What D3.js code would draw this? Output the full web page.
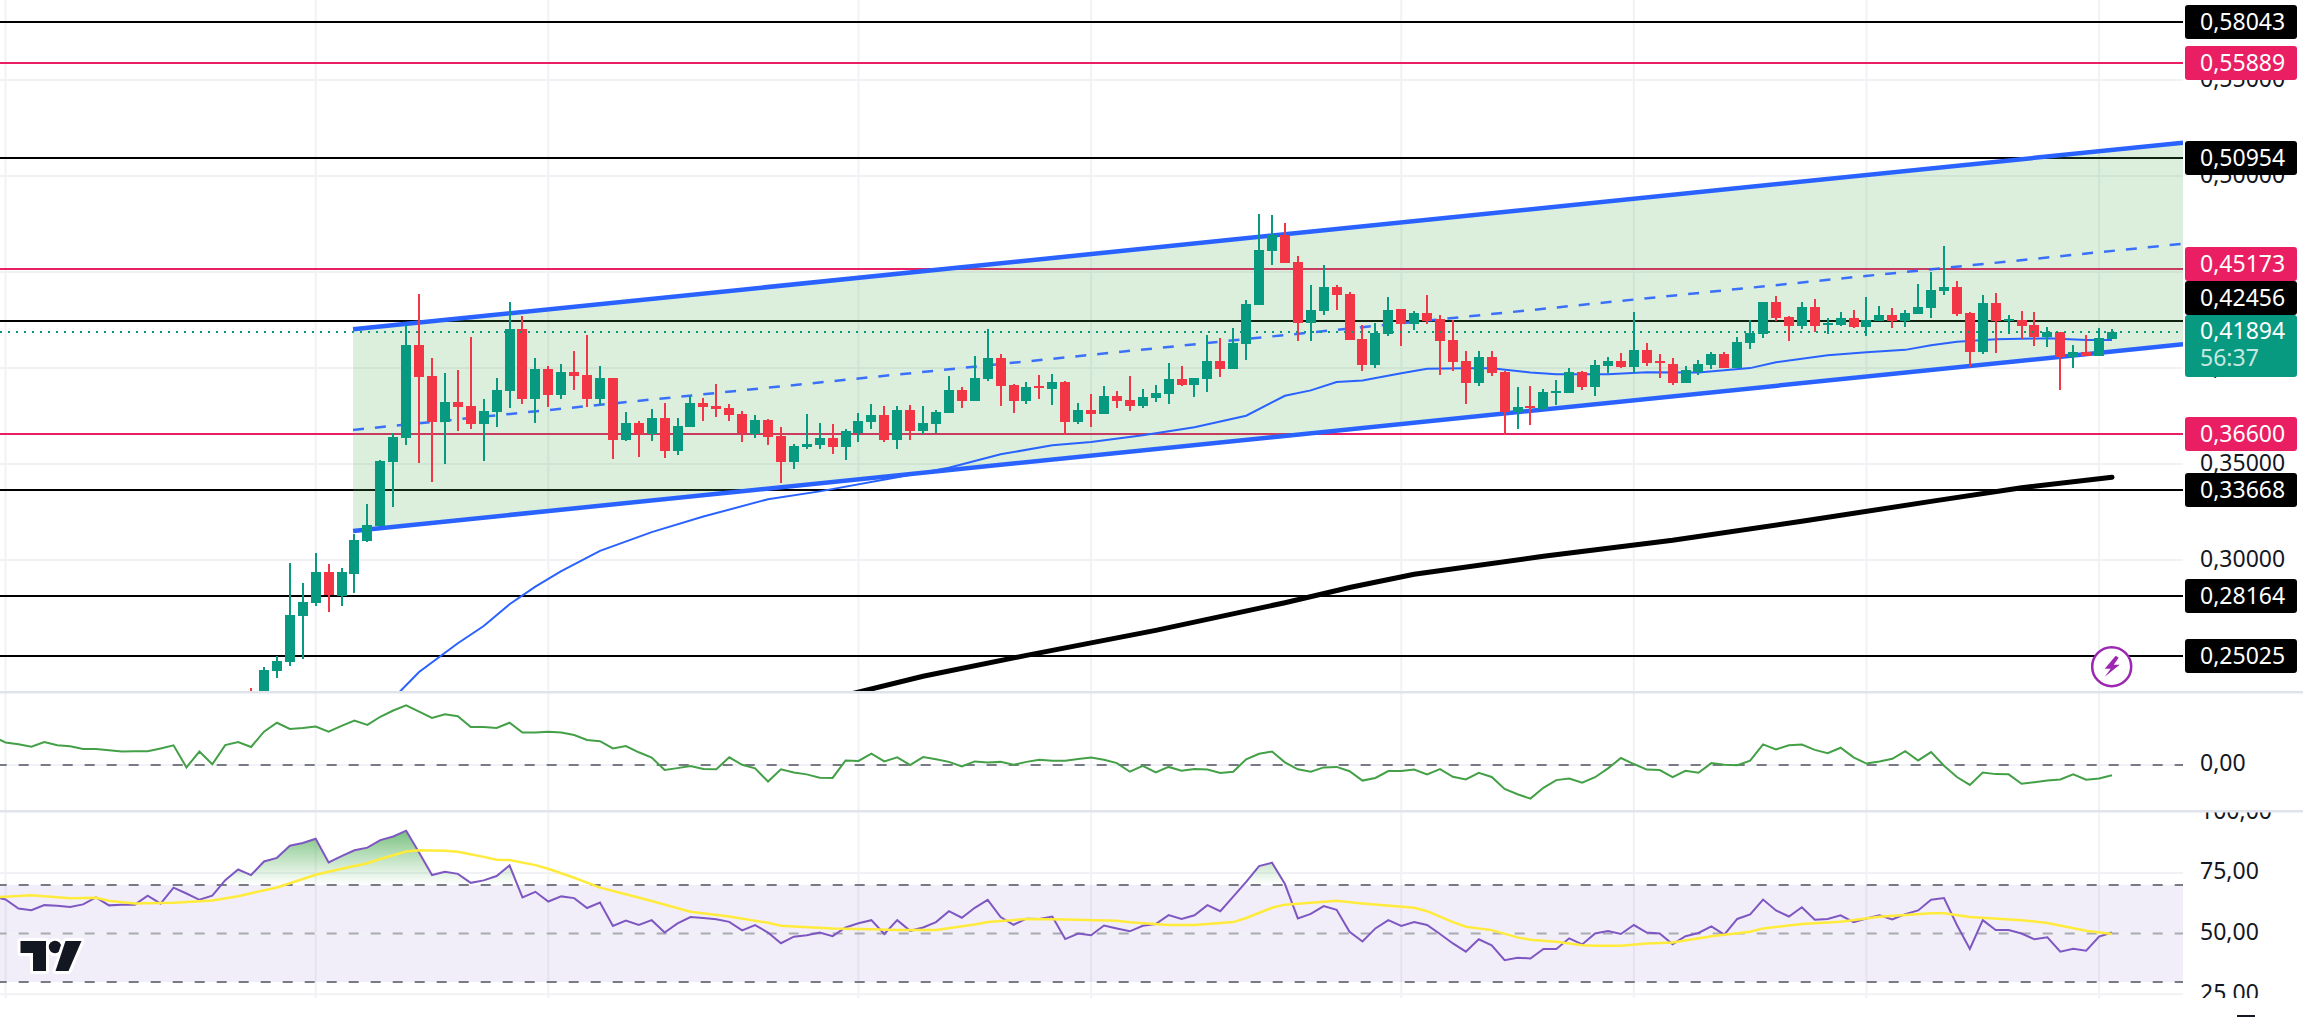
<!DOCTYPE html>
<html>
<head>
<meta charset="utf-8">
<style>
  html, body { margin: 0; padding: 0; background: #fff; overflow: hidden; }
  text { font-family: "Noto Sans", sans-serif; font-size: 23px; }
</style>
<script src="https://cdn.jsdelivr.net/npm/d3@7"></script>
</head>
<body>
<script>
// candles, first one is the sliver poking out of the bottom of the pane
const candleOpen = [.2290,.2260,.2422,.2469,.2709,.2776,.2938,.2813,.2927,.3099,.3177,.3511,.3636,.4120,.3959,.3719,.3823,.3802,.3709,.3771,.3881,.4203,.3839,.3995,.3860,.3979,.3964,.3839,.3948,.3625,.3714,.3657,.3740,.3568,.3693,.3818,.3802,.3791,.3760,.3656,.3729,.3646,.3510,.3588,.3599,.3635,.3588,.3661,.3719,.3755,.3625,.3781,.3672,.3708,.3765,.3885,.3828,.3943,.4052,.3911,.3828,.3906,.3890,.3927,.3719,.3781,.3760,.3854,.3833,.3802,.3844,.3864,.3943,.3911,.3943,.4036,.3995,.4125,.4328,.4609,.4692,.4552,.4234,.4297,.4422,.4385,.4151,.4015,.4177,.4307,.4229,.4286,.4255,.4146,.4036,.3922,.4057,.3979,.3771,.3802,.3786,.3875,.3870,.3979,.3901,.4010,.4036,.4005,.4094,.4036,.4021,.3922,.3979,.4016,.4073,.4000,.4130,.4177,.4344,.4266,.4219,.4318,.4224,.4224,.4260,.4214,.4245,.4276,.4245,.4281,.4312,.4401,.4422,.4286,.4083,.4339,.4250,.4250,.4224,.4161,.4187,.4057,.4083,.4063,.4151];
const candleHigh = [.2334,.2443,.2502,.2985,.2881,.3037,.2980,.2959,.3136,.3292,.3521,.3662,.4224,.4386,.4052,.3974,.3990,.4162,.3839,.3948,.4344,.4271,.4052,.4011,.4021,.4089,.4172,.4011,.3948,.3771,.3724,.3787,.3818,.3740,.3854,.3844,.3917,.3812,.3776,.3755,.3734,.3693,.3604,.3760,.3713,.3708,.3682,.3765,.3812,.3802,.3802,.3807,.3802,.3781,.3958,.3901,.4062,.4203,.4073,.3917,.3927,.3963,.3969,.3932,.3818,.3864,.3906,.3880,.3958,.3890,.3911,.4026,.4010,.3948,.4172,.4156,.4208,.4354,.4802,.4797,.4755,.4583,.4432,.4536,.4432,.4396,.4224,.4234,.4370,.4307,.4297,.4380,.4276,.4250,.4088,.4088,.4088,.3984,.3901,.3906,.3890,.3937,.3999,.3984,.4042,.4057,.4078,.4291,.4130,.4073,.4052,.4010,.4042,.4083,.4083,.4161,.4250,.4344,.4375,.4271,.4344,.4359,.4260,.4292,.4302,.4370,.4323,.4312,.4302,.4437,.4500,.4635,.4453,.4292,.4380,.4391,.4276,.4297,.4292,.4214,.4187,.4120,.4172,.4208,.4203];
const candleLow = [.2250,.2240,.2386,.2448,.2485,.2761,.2730,.2761,.2829,.3094,.3177,.3276,.3599,.3506,.3407,.3500,.3672,.3683,.3516,.3693,.3792,.3813,.3714,.3797,.3839,.3886,.3797,.3808,.3526,.3620,.3537,.3620,.3532,.3547,.3693,.3724,.3745,.3724,.3614,.3635,.3599,.3401,.3474,.3578,.3578,.3552,.3521,.3614,.3682,.3614,.3578,.3625,.3656,.3661,.3765,.3791,.3828,.3932,.3802,.3765,.3812,.3838,.3807,.3651,.3708,.3693,.3760,.3791,.3776,.3791,.3823,.3812,.3906,.3849,.3875,.3953,.3995,.4042,.4328,.4536,.4547,.4140,.4140,.4276,.4302,.4146,.3984,.3999,.4167,.4114,.4198,.4229,.3963,.3984,.3812,.3906,.3958,.3651,.3682,.3703,.3781,.3807,.3870,.3885,.3854,.3974,.3999,.3974,.4010,.3948,.3911,.3922,.3964,.3995,.4000,.4000,.4099,.4156,.4245,.4141,.4203,.4187,.4177,.4219,.4208,.4167,.4245,.4208,.4214,.4281,.4260,.4380,.4271,.4005,.4073,.4078,.4177,.4151,.4115,.4109,.3885,.4000,.4063,.4063,.4151];
const candleClose = [.2260,.2428,.2474,.2714,.2782,.2938,.2818,.2938,.3105,.3183,.3516,.3641,.4120,.3953,.3719,.3823,.3797,.3709,.3776,.3886,.4203,.3839,.3995,.3860,.3979,.3959,.3839,.3948,.3625,.3714,.3657,.3740,.3568,.3698,.3818,.3797,.3786,.3755,.3661,.3729,.3640,.3510,.3594,.3604,.3635,.3588,.3672,.3724,.3755,.3625,.3781,.3672,.3713,.3771,.3885,.3828,.3948,.4052,.3906,.3828,.3901,.3896,.3927,.3719,.3781,.3760,.3854,.3828,.3802,.3849,.3870,.3943,.3911,.3948,.4036,.3995,.4130,.4333,.4614,.4692,.4547,.4234,.4302,.4422,.4380,.4146,.4015,.4182,.4302,.4229,.4286,.4245,.4140,.4031,.3922,.4057,.3974,.3771,.3797,.3791,.3875,.3880,.3979,.3901,.4015,.4036,.4005,.4094,.4026,.4026,.3922,.3989,.4021,.4073,.4000,.4135,.4182,.4344,.4260,.4219,.4318,.4219,.4234,.4260,.4214,.4250,.4276,.4245,.4286,.4318,.4406,.4422,.4281,.4083,.4339,.4245,.4255,.4219,.4161,.4187,.4057,.4083,.4063,.4156,.4189];

// moving averages, read at the candle indexes where the line bends
const ma50Index = [11,13,16,18,20,22,24,27,31,35,40,44,50,54,58,62,65,69,73,77,80,82,84,86,89,91,94,96,99,101,105,108,112,116,118,122,125,128,130,132,135,139,142,144];
const ma50Values = [.2281,.2418,.2568,.2658,.2771,.2863,.2944,.3049,.3147,.3228,.3318,.3359,.3432,.3482,.3552,.3599,.3616,.3651,.3693,.3753,.3857,.3885,.3929,.3936,.3974,.3998,.4000,.4000,.3978,.3969,.3969,.3979,.3978,.4001,.4031,.4068,.4083,.4096,.4120,.4138,.4151,.4156,.4148,.4148];
const ma200Index = [46,52,60,70,80,85,90,100,110,120,130,137,144];
const ma200Values = [.2297,.2396,.2505,.2635,.2779,.2858,.2927,.3021,.3104,.3203,.3307,.3378,.3432];

// channel, first and last anchor
const channelIndex = [7.89,149.5];
const channelUpper = [.4203,.5175];
const channelMiddle = [.3679,.4649];
const channelLower = [.3153,.4125];

// drawn levels
const blackLevels = [.58043,.50954,.42456,.33668,.28164,.25025];
const pinkLevels = [.55889,.45173,.36600];
const lastPrice = .41894;
const countdown = "56:37";

const priceTicks = [.55,.50,.45,.40,.35,.30,.25];
const cmfTicks = [0];
const rsiTicks = [100,75,50,25];
const rsiBands = [70,50,30];
const gridIndex = [-19,5,23,47,65,89,107,125,143];

// oscillators start at candle index -20 (left edge of the picture)
const cmfStart = -20;
const cmfValues = [.118,.094,.086,.076,.096,.082,.078,.067,.067,.061,.056,.057,.057,.069,.082,-.010,.056,.003,.083,.096,.075,.139,.176,.150,.154,.160,.139,.163,.185,.167,.201,.227,.249,.222,.196,.211,.203,.158,.158,.154,.176,.135,.135,.139,.135,.125,.104,.099,.069,.079,.053,.031,-.021,-.013,-.004,-.017,-.018,.032,.001,-.014,-.069,-.018,-.031,
  -.039,-.053,-.054,.019,.017,.047,.015,.032,0,.033,.024,.013,-.006,.015,.010,.013,.001,.013,.022,.018,.018,.025,.031,.022,.008,-.028,-.004,-.031,-.008,-.024,-.017,-.019,-.033,-.028,.024,.047,.056,.011,-.018,-.028,-.010,-.008,-.026,-.065,-.054,-.025,-.025,-.019,-.039,-.017,-.049,-.060,-.033,-.050,-.100,-.122,-.140,-.095,-.063,-.056,-.074,-.051,
  -.014,.029,.004,-.019,-.021,-.051,-.024,-.032,.008,.001,-.001,.018,.086,.065,.082,.085,.063,.049,.072,.032,.006,.015,.026,.058,.019,.054,-.003,-.050,-.083,-.031,-.038,-.039,-.078,-.072,-.065,-.060,-.039,-.061,-.056,-.043];
const rsiValues = [65.2,64.0,60.3,59.6,61.7,61.4,60.9,62.0,64.9,61.6,61.9,61.9,65.6,62.3,68.9,66.5,63.9,65.6,72.0,76.4,74.1,79.7,81.2,86.2,87.3,89.1,79.3,81.9,84.3,85.4,88.5,90.0,92.4,83.4,74.1,75.5,74.6,70.9,71.9,73.7,78.1,64.9,67.2,63.2,65.3,64.6,60.5,62.8,53.1,55.3,53.5,55.5,50.4,54.2,56.8,56.4,55.9,54.8,51.3,53.5,50.4,46.0,48.7,
  49.3,50.4,48.9,52.5,54.2,55.5,49.8,55.5,51.1,52.5,54.7,59.2,56.5,60.6,63.9,56.8,53.6,56.1,56.0,57.0,47.7,50.0,49.3,53.3,52.1,50.9,53.2,53.9,57.6,56.0,57.5,61.7,59.2,65.2,71.3,77.8,79.2,70.4,56.2,58.1,61.3,59.8,50.7,46.7,52.1,55.5,53.1,54.7,53.5,49.8,45.9,42.5,47.6,45.1,39.0,40.0,39.7,43.6,43.6,48.0,45.5,50.0,
  51.0,49.8,53.5,50.4,50.0,45.6,48.9,50.2,52.9,49.5,56.0,57.9,64.0,59.5,57.0,60.8,55.7,56.0,57.5,54.7,56.2,57.5,55.8,58.0,59.5,63.9,64.6,53.5,43.6,55.5,51.4,51.4,50.0,47.6,48.4,42.5,43.7,42.9,48.7,50.4];
const rsiMaIndex = [-20,-17,-14,-12,-11,-9,-6,-3,-1,2,5,7,9,10,12,13,15,16,18,19,20,22,23,25,27,29,31,34,37,40,41,42,45,48,50,53,56,57,60,63,67,68,71,73,76,77,79,80,82,84,86,90,91,93,94,96,98,99,101,103,104,106,108,110,113,116,117,120,123,126,128,130,131,133,137,139,142,144];
const rsiMaValues = [64.9,65.8,64.5,64.7,63.5,62.4,62.7,63.6,65.4,69.0,74.2,76.7,79.0,80.7,83.8,84.3,84.1,83.7,81.6,80.4,80.3,78.2,76.7,73.0,68.9,66.2,63.4,59.0,57.0,54.4,53.2,52.9,52.1,51.8,51.4,51.4,53.7,54.7,56.0,55.8,55.3,54.6,53.5,53.5,54.7,56.4,60.6,61.9,62.7,63.5,62.4,60.6,59.2,54.7,52.8,51.4,48.4,47.4,46.6,45.2,44.9,44.9,45.9,46.3,48.9,50.7,52.1,53.9,54.8,56.9,57.6,58.3,58.3,56.8,55.5,54.3,51.1,49.8];

const width = 2303;
const height = 1017;
const plotRight = 2183;
const axisX = 2200;
const mainBottom = 692;
const cmfTop = 693, cmfBottom = 810;
const rsiTop = 812, rsiBottom = 998;

const green = "#089981";
const red = "#f23645";
const pink = "#e91e63";
const gridColor = "#f1f2f5";
const dashes = "10 12";
const dashPhase = 3.3;

const svg = d3.select("body").append("svg")
  .attr("width", width)
  .attr("height", height)
  .style("display", "block");

const defs = svg.append("defs");
function addClip(id, x, y, w, h) {
  defs.append("clipPath").attr("id", id)
    .append("rect").attr("x", x).attr("y", y).attr("width", w).attr("height", h);
}
addClip("main-clip", 0, 0, plotRight, mainBottom);
addClip("main-axis-clip", plotRight, 0, width - plotRight, mainBottom);
addClip("cmf-clip", plotRight, cmfTop, width - plotRight, cmfBottom - cmfTop);
addClip("rsi-clip", plotRight, rsiTop, width - plotRight, rsiBottom - rsiTop);

const xScale = d3.scaleLinear().domain([0, 144]).range([251.08, 2112]);
const priceScale = d3.scaleLinear().domain([.25, .55]).range([656.3, 80.3]);
const cmfScale = d3.scaleLinear().domain([-.1, .1]).range([789, 741]);
const rsiScale = d3.scaleLinear().domain([30, 70]).range([982, 885]);

const commaFormat = d3.formatLocale({ decimal: ",", thousands: ".", grouping: [3], currency: ["", ""] });
const price5 = commaFormat.format(".5f");
const value2 = commaFormat.format(".2f");

// vertical grid runs through all panes
svg.append("g").selectAll("line").data(gridIndex).enter().append("line")
  .attr("x1", d => xScale(d)).attr("x2", d => xScale(d))
  .attr("y1", 0).attr("y2", rsiBottom)
  .attr("stroke", gridColor).attr("stroke-width", 2);

// right hand axes first, the level badges sit on top of them
function rightAxis(scale, ticks, fmt, clip) {
  const g = svg.append("g")
    .attr("clip-path", `url(#${clip})`)
    .append("g")
    .attr("transform", `translate(${axisX},0)`)
    .call(d3.axisRight(scale).tickValues(ticks).tickSize(0).tickPadding(0).tickFormat(fmt));
  g.select(".domain").remove();
  g.selectAll("text").attr("fill", "#131722").attr("dy", ".26em").style("font-size", "23px");
}
rightAxis(priceScale, priceTicks, price5, "main-axis-clip");
rightAxis(cmfScale, cmfTicks, value2, "cmf-clip");
rightAxis(rsiScale, rsiTicks, value2, "rsi-clip");

// main pane
const main = svg.append("g").attr("clip-path", "url(#main-clip)");

function levelLines(cls, levels, color) {
  main.selectAll("." + cls).data(levels).enter().append("line")
    .attr("class", cls)
    .attr("x1", 0).attr("x2", plotRight)
    .attr("y1", d => Math.round(priceScale(d))).attr("y2", d => Math.round(priceScale(d)))
    .attr("stroke", color).attr("stroke-width", 2);
}
levelLines("price-grid", priceTicks, gridColor);
levelLines("black-level", blackLevels, "#000");
levelLines("pink-level", pinkLevels, pink);

const channelArea = d3.area()
  .x((d, i) => xScale(channelIndex[i]))
  .y0((d, i) => priceScale(channelLower[i]))
  .y1(d => priceScale(d));
main.append("path").datum(channelUpper)
  .attr("d", channelArea)
  .attr("fill", "rgba(76,175,80,0.2)");

const channelLine = d3.line()
  .x((d, i) => xScale(channelIndex[i]))
  .y(d => priceScale(d));

const ma200Line = d3.line().x((d, i) => xScale(ma200Index[i])).y(d => priceScale(d));
main.append("path").datum(ma200Values)
  .attr("d", ma200Line)
  .attr("fill", "none").attr("stroke", "#000").attr("stroke-width", 5).attr("stroke-linecap", "round");

[channelUpper, channelLower].forEach(vals => {
  main.append("path").datum(vals)
    .attr("d", channelLine)
    .attr("fill", "none").attr("stroke", "#2962ff").attr("stroke-width", 4.5);
});
main.append("path").datum(channelMiddle)
  .attr("d", channelLine)
  .attr("fill", "none").attr("stroke", "#2962ff").attr("stroke-opacity", 0.9).attr("stroke-width", 2.5)
  .attr("stroke-dasharray", "11 11");

const ma50Line = d3.line().x((d, i) => xScale(ma50Index[i])).y(d => priceScale(d));
main.append("path").datum(ma50Values)
  .attr("d", ma50Line)
  .attr("fill", "none").attr("stroke", "#2962ff").attr("stroke-width", 2);

const candles = main.selectAll(".candle").data(candleOpen).enter().append("g").attr("class", "candle");
const candleColor = (d, i) => candleClose[i] >= d ? green : red;
candles.append("rect")
  .attr("x", (d, i) => Math.round(xScale(i)) - 1)
  .attr("width", 2)
  .attr("y", (d, i) => Math.round(priceScale(candleHigh[i])))
  .attr("height", (d, i) => Math.round(priceScale(candleLow[i])) - Math.round(priceScale(candleHigh[i])))
  .attr("fill", candleColor);
candles.append("rect")
  .attr("x", (d, i) => Math.round(xScale(i)) - 5)
  .attr("width", 10)
  .attr("y", (d, i) => Math.round(priceScale(Math.max(d, candleClose[i]))))
  .attr("height", (d, i) => Math.max(2, Math.round(Math.abs(priceScale(d) - priceScale(candleClose[i])))))
  .attr("fill", candleColor);

main.append("line")
  .attr("x1", 0).attr("x2", plotRight)
  .attr("y1", Math.round(priceScale(lastPrice))).attr("y2", Math.round(priceScale(lastPrice)))
  .attr("stroke", green).attr("stroke-width", 2).attr("stroke-dasharray", "2 6");

// purple lightning marker
const bolt = svg.append("g").attr("transform", "translate(2111.7,666.7)");
bolt.append("circle").attr("r", 19.5).attr("fill", "#fff").attr("stroke", "#9c27b0").attr("stroke-width", 2.5);
bolt.append("path").attr("d", "M4,-11 L-7,2 L-1,2 L-7,10 L8,-2 L2,-2 L7,-9 Z").attr("fill", "#9c27b0");

// level badges
function labelShift(v) {
  if (v === .45173) return -5;
  if (v === .42456) return -23;
  return 0;
}
const badgeX = 2185, badgeW = 112, badgeH = 34;
function addBadges(levels, color) {
  const g = svg.append("g").selectAll("g").data(levels).enter().append("g")
    .attr("transform", d => `translate(${badgeX},${Math.round(priceScale(d)) + labelShift(d)})`);
  g.append("rect")
    .attr("y", -badgeH / 2).attr("width", badgeW).attr("height", badgeH).attr("rx", 3)
    .attr("fill", color);
  g.append("text")
    .attr("x", axisX - badgeX).attr("dy", ".35em")
    .attr("fill", "#fff")
    .text(d => price5(d));
}
addBadges(blackLevels, "#000");
addBadges(pinkLevels, pink);

const lastBadge = svg.append("g").attr("transform", `translate(${badgeX},315)`);
lastBadge.append("rect").attr("width", badgeW).attr("height", 62).attr("rx", 3).attr("fill", green);
lastBadge.append("text").attr("x", axisX - badgeX).attr("y", 16).attr("dy", ".35em").attr("fill", "#fff").text(price5(lastPrice));
lastBadge.append("text").attr("x", axisX - badgeX).attr("y", 43).attr("dy", ".35em").attr("fill", "#c4e8e0").text(countdown);

// pane separators
[mainBottom, cmfBottom + 1].forEach(y => {
  svg.append("rect").attr("x", 0).attr("y", y - 1).attr("width", width).attr("height", 2.5).attr("fill", "#e0e3eb");
});

// CMF pane
const oscX = start => (d, i) => xScale(start + i);
svg.selectAll(".cmf-grid").data(cmfTicks).enter().append("line")
  .attr("class", "cmf-grid")
  .attr("x1", 0).attr("x2", plotRight)
  .attr("y1", d => cmfScale(d)).attr("y2", d => cmfScale(d))
  .attr("stroke", gridColor).attr("stroke-width", 2);
svg.selectAll(".cmf-zero").data(cmfTicks).enter().append("line")
  .attr("class", "cmf-zero")
  .attr("x1", 0).attr("x2", plotRight)
  .attr("y1", d => cmfScale(d)).attr("y2", d => cmfScale(d))
  .attr("stroke", "#787b86").attr("stroke-width", 2)
  .attr("stroke-dasharray", dashes).attr("stroke-dashoffset", dashPhase);
svg.append("path").datum(cmfValues)
  .attr("d", d3.line().x(oscX(cmfStart)).y(d => cmfScale(d)))
  .attr("fill", "none").attr("stroke", "#43a047").attr("stroke-width", 2);

// RSI pane
svg.append("rect")
  .attr("x", 0).attr("width", plotRight)
  .attr("y", rsiScale(rsiBands[0])).attr("height", rsiScale(rsiBands[2]) - rsiScale(rsiBands[0]))
  .attr("fill", "rgba(126,87,194,0.1)");

svg.selectAll(".rsi-grid").data(rsiTicks.slice(1)).enter().append("line")
  .attr("class", "rsi-grid")
  .attr("x1", 0).attr("x2", plotRight)
  .attr("y1", d => rsiScale(d)).attr("y2", d => rsiScale(d))
  .attr("stroke", gridColor).attr("stroke-width", 2);

svg.selectAll(".rsi-band").data(rsiBands).enter().append("line")
  .attr("class", "rsi-band")
  .attr("x1", 0).attr("x2", plotRight)
  .attr("y1", d => rsiScale(d)).attr("y2", d => rsiScale(d))
  .attr("stroke", "#787b86").attr("stroke-opacity", d => d === 50 ? 0.6 : 1)
  .attr("stroke-width", 2)
  .attr("stroke-dasharray", dashes).attr("stroke-dashoffset", dashPhase);

const grad = defs.append("linearGradient").attr("id", "overbought")
  .attr("gradientUnits", "userSpaceOnUse")
  .attr("x1", 0).attr("x2", 0).attr("y1", rsiScale(100)).attr("y2", rsiScale(70));
grad.append("stop").attr("offset", 0).attr("stop-color", "#2e9c3a").attr("stop-opacity", 0.9);
grad.append("stop").attr("offset", 1).attr("stop-color", "#4caf50").attr("stop-opacity", 0);
addClip("overbought-clip", 0, rsiScale(100), plotRight, rsiScale(70) - rsiScale(100));

svg.append("path").datum(rsiValues)
  .attr("clip-path", "url(#overbought-clip)")
  .attr("d", d3.area().x(oscX(cmfStart)).y0(rsiScale(70)).y1(d => rsiScale(d)))
  .attr("fill", "url(#overbought)");

svg.append("path").datum(rsiValues)
  .attr("d", d3.line().x(oscX(cmfStart)).y(d => rsiScale(d)))
  .attr("fill", "none").attr("stroke", "#7e57c2").attr("stroke-width", 2);

svg.append("path").datum(rsiMaValues)
  .attr("d", d3.line().x((d, i) => xScale(rsiMaIndex[i])).y(d => rsiScale(d)))
  .attr("fill", "none").attr("stroke", "#ffeb3b").attr("stroke-width", 2.5);

// TradingView mark
const logo = svg.append("g")
  .attr("fill", "#131722").attr("stroke", "#fff").attr("stroke-width", 6)
  .attr("stroke-linejoin", "round").style("paint-order", "stroke");
logo.append("path").attr("d", "M20.5,941 H46 V971 H33 V953 H20.5 Z");
logo.append("circle").attr("cx", 55).attr("cy", 947).attr("r", 6.2);
logo.append("path").attr("d", "M65.5,941 H81.5 L68.5,971 H55.5 Z");

// bit of the time axis that is still in frame
svg.append("rect").attr("x", 2237).attr("y", 1015).attr("width", 18).attr("height", 2).attr("fill", "#131722");
</script>
</body>
</html>
